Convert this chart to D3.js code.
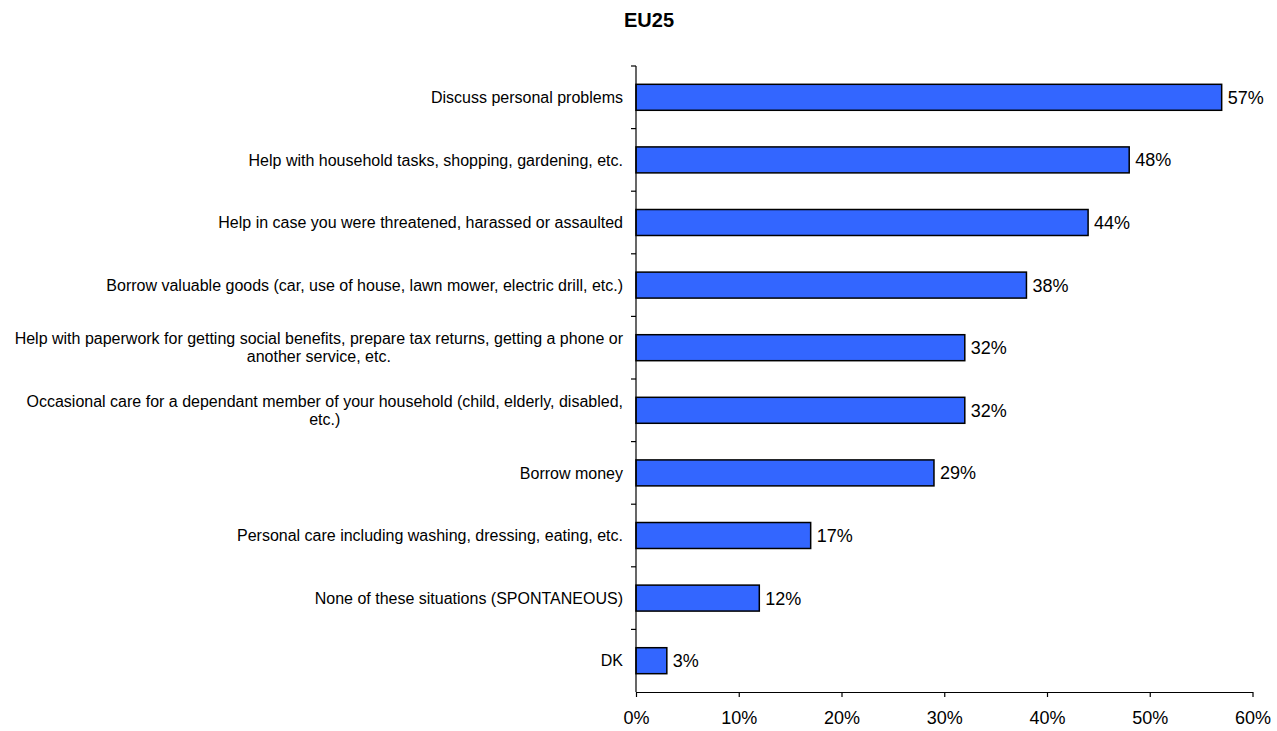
<!DOCTYPE html>
<html>
<head>
<meta charset="utf-8">
<script src="https://cdn.jsdelivr.net/npm/d3@7"></script>
<style>
  html, body { margin: 0; padding: 0; background: #fff; }
  svg { display: block; font-family: "Liberation Sans", Arial, sans-serif; }
</style>
</head>
<body>
<svg id="chart" width="1277" height="731"></svg>
<script>
// Survey answers (each label may hold several lines)
const categories = [
  ["Discuss personal problems"],
  ["Help with household tasks, shopping, gardening, etc."],
  ["Help in case you were threatened, harassed or assaulted"],
  ["Borrow valuable goods (car, use of house, lawn mower, electric drill, etc.)"],
  ["Help with paperwork for getting social benefits, prepare tax returns, getting a phone or", "another service, etc."],
  ["Occasional care for a dependant member of your household (child, elderly, disabled,", "etc.)"],
  ["Borrow money"],
  ["Personal care including washing, dressing, eating, etc."],
  ["None of these situations (SPONTANEOUS)"],
  ["DK"]
];
const values = [57, 48, 44, 38, 32, 32, 29, 17, 12, 3];
const xTicks = [0, 10, 20, 30, 40, 50, 60];
const title = "EU25";

const svg = d3.select("#chart");
const plotLeft = 636, plotRight = 1252.5, plotTop = 66, plotBottom = 692;

const x = d3.scaleLinear().domain([0, 60]).range([plotLeft, plotRight]);
const pad = 0.585;
const y = d3.scaleBand()
  .domain(d3.range(categories.length))
  .range([plotTop, plotBottom])
  .paddingInner(pad)
  .paddingOuter(pad / 2);

// Title
svg.append("text")
  .attr("x", 649).attr("y", 27)
  .attr("text-anchor", "middle")
  .attr("font-size", 20).attr("font-weight", "bold")
  .text(title);

// Bars
svg.append("g").selectAll("rect")
  .data(values)
  .join("rect")
  .attr("x", x(0))
  .attr("y", (d, i) => y(i))
  .attr("width", d => x(d) - x(0))
  .attr("height", y.bandwidth())
  .attr("fill", "#3366FF")
  .attr("stroke", "#000")
  .attr("stroke-width", 1.5);

// Value labels
svg.append("g").selectAll("text")
  .data(values)
  .join("text")
  .attr("x", d => x(d) + 6)
  .attr("y", (d, i) => y(i) + y.bandwidth() / 2)
  .attr("dy", "0.36em")
  .attr("font-size", 18)
  .text(d => d + "%");

// Category axis: line with ticks on band boundaries
const step = y.step();
const yAxis = svg.append("g").attr("stroke", "#000").attr("stroke-width", 1.2);
yAxis.append("line")
  .attr("x1", plotLeft).attr("x2", plotLeft)
  .attr("y1", plotTop).attr("y2", plotBottom);
yAxis.selectAll("line.tick")
  .data(d3.range(categories.length))
  .join("line")
  .attr("class", "tick")
  .attr("x1", plotLeft - 5).attr("x2", plotLeft)
  .attr("y1", i => plotTop + i * step)
  .attr("y2", i => plotTop + i * step);

// Value axis along the bottom
const xAxis = d3.axisBottom(x)
  .tickValues(xTicks)
  .tickFormat(d => d + "%")
  .tickSize(5)
  .tickSizeOuter(0)
  .tickPadding(14);
const gx = svg.append("g")
  .attr("transform", `translate(0,${plotBottom})`)
  .call(xAxis);
gx.select(".domain").attr("stroke", "#000").attr("stroke-width", 1.2);
gx.selectAll(".tick line").attr("stroke", "#000").attr("stroke-width", 1.2);
gx.selectAll(".tick text")
  .attr("font-size", 18)
  .attr("font-family", "Liberation Sans, Arial, sans-serif")
  .attr("fill", "#000");

// Category labels: block right-aligned at the axis, lines centred within the block
const labelRight = 623;
const lineH = 18;
const labelG = svg.append("g").attr("font-size", 16).attr("fill", "#000");
categories.forEach((lines, i) => {
  const cy = y(i) + y.bandwidth() / 2;
  const g = labelG.append("g");
  const texts = lines.map((ln, k) => g.append("text")
    .attr("y", cy + (k - (lines.length - 1) / 2) * lineH)
    .attr("dy", "0.36em")
    .attr("text-anchor", "middle")
    .text(ln));
  const widths = texts.map(t => t.node().getComputedTextLength());
  const w = d3.max(widths);
  texts.forEach(t => t.attr("x", labelRight - w / 2));
});
</script>
</body>
</html>
